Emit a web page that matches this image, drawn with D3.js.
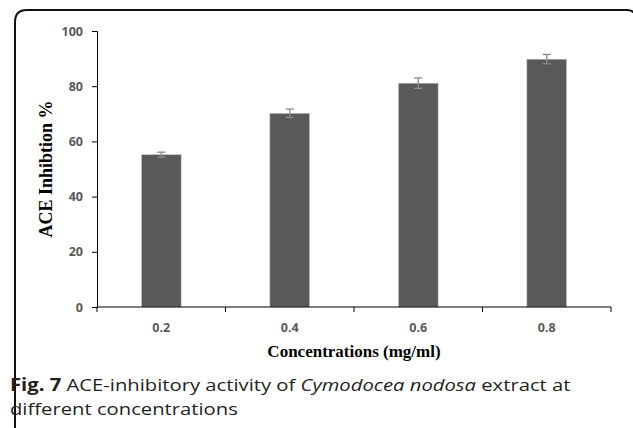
<!DOCTYPE html>
<html>
<head>
<meta charset="utf-8">
<script src="https://cdn.jsdelivr.net/npm/d3@7"></script>
<style>
  body { margin: 0; background: #fff; }
  svg { display: block; }
</style>
</head>
<body>
<script>
const width = 633;
const height = 428;

const concentrations = ["0.2", "0.4", "0.6", "0.8"];
const inhibition = [55.2, 70.2, 81.1, 89.8];
const errors = [0.9, 1.5, 1.9, 1.7];
const yTicks = [0, 20, 40, 60, 80, 100];

const margin = { left: 97, right: 22, top: 31, bottom: 121 };

const svg = d3.select("body")
  .append("svg")
  .attr("width", width)
  .attr("height", height);

// rounded frame around figure (open to the right and bottom)
const frame = d3.path();
frame.moveTo(15, height + 5);
frame.lineTo(15, 22);
frame.quadraticCurveTo(15, 10, 27, 10);
frame.lineTo(627, 10);
frame.quadraticCurveTo(632, 10, 634, 13);
svg.append("path")
  .attr("d", frame.toString())
  .attr("fill", "none")
  .attr("stroke", "#111")
  .attr("stroke-width", 2);

const x = d3.scaleBand()
  .domain(concentrations)
  .range([margin.left, width - margin.right])
  .paddingInner(0.69)
  .paddingOuter(0.345);

const y = d3.scaleLinear()
  .domain([0, 100])
  .range([height - margin.bottom, margin.top]);

// bars
svg.selectAll(".bar")
  .data(concentrations)
  .join("rect")
  .attr("class", "bar")
  .attr("x", d => x(d))
  .attr("y", (d, i) => y(inhibition[i]))
  .attr("width", x.bandwidth())
  .attr("height", (d, i) => y(0) - y(inhibition[i]))
  .attr("fill", "#595959")
  .attr("stroke", "#d0d0d0")
  .attr("stroke-width", 0.6);

// error bars
const err = svg.append("g").attr("stroke", "#8a8a8a").attr("stroke-width", 1.3);
concentrations.forEach((c, i) => {
  const cx = x(c) + x.bandwidth() / 2;
  const top = y(inhibition[i] + errors[i]);
  const bot = y(inhibition[i] - errors[i]);
  err.append("line").attr("x1", cx).attr("x2", cx).attr("y1", top).attr("y2", bot);
  err.append("line").attr("x1", cx - 4).attr("x2", cx + 4).attr("y1", top).attr("y2", top);
  err.append("line").attr("x1", cx - 4).attr("x2", cx + 4).attr("y1", bot).attr("y2", bot);
});

// y axis
const yAxis = svg.append("g")
  .attr("transform", `translate(${margin.left},0)`)
  .call(d3.axisLeft(y).tickValues(yTicks).tickSize(5).tickPadding(9));

// x axis with ticks at band edges
const edges = d3.range(concentrations.length + 1)
  .map(i => margin.left + i * x.step());
const xAxis = svg.append("g")
  .attr("transform", `translate(0,${y(0)})`);
xAxis.append("line")
  .attr("x1", margin.left).attr("x2", width - margin.right)
  .attr("y1", 0).attr("y2", 0);
xAxis.selectAll(".edge")
  .data(edges)
  .join("line")
  .attr("class", "edge")
  .attr("x1", d => d).attr("x2", d => d)
  .attr("y1", 0).attr("y2", 5);
xAxis.selectAll(".lbl")
  .data(concentrations)
  .join("text")
  .attr("class", "lbl")
  .attr("x", d => x(d) + x.bandwidth() / 2)
  .attr("y", 25)
  .attr("text-anchor", "middle")
  .text(d => d);

xAxis.selectAll("line").attr("stroke", "#000").attr("stroke-width", 1);

[yAxis, xAxis].forEach(g => {
  g.select(".domain").attr("stroke", "#000");
  g.selectAll(".tick line").attr("stroke", "#000");
  g.selectAll("text")
    .attr("fill", "#595959")
    .style("font-family", "'Open Sans', sans-serif")
    .style("font-weight", "bold")
    .style("font-size", "12.5px");
});

// axis titles
svg.append("text")
  .attr("x", (margin.left + width - margin.right) / 2)
  .attr("y", 357)
  .attr("text-anchor", "middle")
  .style("font-family", "'Liberation Serif', 'Times New Roman', serif")
  .style("font-weight", "bold")
  .style("font-size", "17px")
  .text("Concentrations (mg/ml)");

svg.append("text")
  .attr("transform", `translate(52,${(y(0) + y(100)) / 2}) rotate(-90)`)
  .attr("text-anchor", "middle")
  .style("font-family", "'Liberation Serif', 'Times New Roman', serif")
  .style("font-weight", "bold")
  .style("font-size", "18px")
  .text("ACE Inhibtion %");

// caption, stretched horizontally to match the figure's width
const capG = svg.append("g");
const cap = capG.append("text")
  .attr("x", 0)
  .attr("y", 391)
  .style("font-family", "'Open Sans', sans-serif")
  .style("font-size", "17px")
  .attr("fill", "#231f20");
cap.append("tspan").style("font-weight", "bold").text("Fig. 7");
cap.append("tspan").text(" ACE-inhibitory activity of ");
cap.append("tspan").style("font-style", "italic").text("Cymodocea nodosa");
cap.append("tspan").text(" extract at");
capG.append("text")
  .attr("x", 0)
  .attr("y", 415)
  .style("font-family", "'Open Sans', sans-serif")
  .style("font-size", "17px")
  .attr("fill", "#231f20")
  .text("different concentrations");
const sx = 561 / cap.node().getComputedTextLength();
capG.attr("transform", `translate(10,0) scale(${sx},1)`);
</script>
</body>
</html>
